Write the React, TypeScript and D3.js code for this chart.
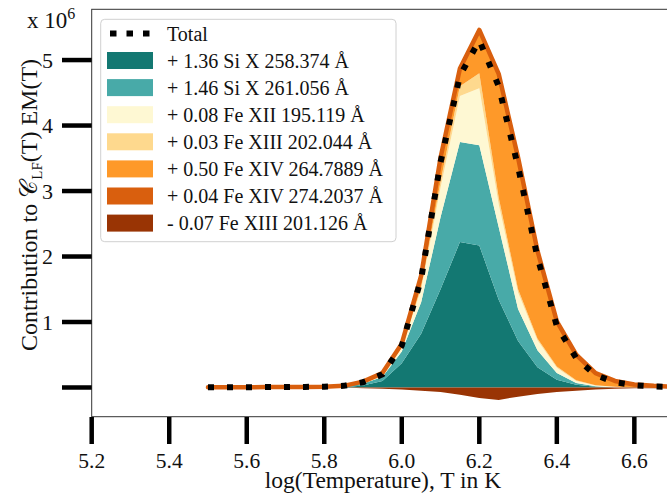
import React from "react";
import * as d3 from "d3";

const logT = [5.5, 5.55, 5.6, 5.65, 5.7, 5.75, 5.8, 5.85, 5.9, 5.95, 6.0, 6.05, 6.1, 6.15, 6.2, 6.25, 6.3, 6.35, 6.4, 6.45, 6.5, 6.55, 6.6, 6.65, 6.7];

// values in units of 1e6
const siX258 = [0, 0, 0, 0, 0, 0, 0, 0.005, 0.03, 0.10, 0.37, 0.82, 1.50, 2.22, 2.17, 1.34, 0.71, 0.31, 0.12, 0.04, 0.01, 0, 0, 0, 0];
const siX261 = [0, 0, 0, 0, 0, 0, 0, 0.005, 0.03, 0.06, 0.18, 0.48, 1.10, 1.53, 1.53, 1.11, 0.49, 0.26, 0.10, 0.03, 0.01, 0, 0, 0, 0];
const feXII195 = [0, 0, 0, 0, 0, 0, 0, 0.003, 0.01, 0.02, 0.05, 0.20, 0.45, 0.70, 0.87, 0.35, 0.25, 0.15, 0.08, 0.03, 0.01, 0.01, 0, 0, 0];
const feXIII202 = [0, 0, 0, 0, 0, 0, 0, 0.001, 0.002, 0.005, 0.01, 0.04, 0.10, 0.15, 0.23, 0.10, 0.05, 0.03, 0.02, 0.01, 0.005, 0.002, 0, 0, 0];
const feXIV264 = [0.002, 0.002, 0.003, 0.003, 0.004, 0.005, 0.008, 0.006, 0.008, 0.015, 0.03, 0.11, 0.30, 0.21, 0.60, 1.83, 1.95, 1.28, 0.64, 0.35, 0.165, 0.073, 0.035, 0.015, 0.006];
const feXIV274 = [0.002, 0.002, 0.002, 0.003, 0.003, 0.004, 0.005, 0.005, 0.01, 0.02, 0.03, 0.06, 0.06, 0.06, 0.06, 0.06, 0.06, 0.06, 0.05, 0.04, 0.02, 0.015, 0.01, 0.01, 0.007];
const feXIII201 = [0, 0, 0, 0, 0, 0, 0, 0, -0.01, -0.02, -0.03, -0.05, -0.07, -0.11, -0.16, -0.19, -0.14, -0.10, -0.07, -0.05, -0.03, -0.02, -0.01, -0.01, -0.005];

const seriesLabels = [
  "+ 1.36 Si X 258.374 Å",
  "+ 1.46 Si X 261.056 Å",
  "+ 0.08 Fe XII 195.119 Å",
  "+ 0.03 Fe XIII 202.044 Å",
  "+ 0.50 Fe XIV 264.7889 Å",
  "+ 0.04 Fe XIV 274.2037 Å",
  "- 0.07 Fe XIII 201.126 Å",
];
const seriesColors = ["#137872", "#48aaa8", "#fef8d3", "#fed98e", "#fe9929", "#d95f0e", "#993404"];

const xTicks = [5.2, 5.4, 5.6, 5.8, 6.0, 6.2, 6.4, 6.6];
const yTicks = [0, 1, 2, 3, 4, 5];

const W = 667;
const H = 493;
const FONT = "'Liberation Serif', 'Times New Roman', serif";

export default function App() {
  const x = d3.scaleLinear().domain([5.2, 6.7]).range([91.7, 673.1]);
  const y = d3.scaleLinear().domain([-0.446, 5.775]).range([416.7, 9.3]);

  const positive = [siX258, siX261, feXII195, feXIII202, feXIV264, feXIV274];
  const keys = positive.map((_, i) => "s" + i);
  const rows = logT.map((t, j) => {
    const r: any = { t };
    positive.forEach((arr, i) => (r["s" + i] = arr[j]));
    return r;
  });
  const stacked = d3.stack().keys(keys)(rows);
  const area = d3
    .area<any>()
    .x((d: any) => x(d.data.t))
    .y0((d: any) => y(d[0]))
    .y1((d: any) => y(d[1]));

  const negArea = d3
    .area<number>()
    .x((_, i) => x(logT[i]))
    .y0(() => y(0))
    .y1((d) => y(d));

  const topLine = d3
    .line<any>()
    .x((d: any) => x(d.data.t))
    .y((d: any) => y(d[1]));

  const total = logT.map((_, j) => positive.reduce((s, arr) => s + arr[j], 0) + feXIII201[j]);
  const totalLine = d3
    .line<number>()
    .x((_, i) => x(logT[i]))
    .y((d) => y(d))
    .curve(d3.curveLinear);

  const legendRowY = (i: number) => 60.5 + i * 27.1;

  return (
    <svg width={W} height={H} style={{ position: "absolute", left: 0, top: 0, background: "#fff" }} fontFamily={FONT}>
      <defs>
        <clipPath id="plotclip">
          <rect x={91.7} y={9.3} width={673.1 - 91.7} height={416.7 - 9.3} />
        </clipPath>
      </defs>
      <g clipPath="url(#plotclip)">
        {stacked.map((s, i) => (
          <path key={i} d={area(s as any) || ""} fill={seriesColors[i]} stroke="none" />
        ))}
        <path d={negArea(feXIII201) || ""} fill={seriesColors[6]} />
        <path d={topLine(stacked[5] as any) || ""} fill="none" stroke={seriesColors[5]} strokeWidth={4.5} strokeLinejoin="round" strokeLinecap="round" />
        <path d={totalLine(total) || ""} fill="none" stroke="#000" strokeWidth={6} strokeDasharray="6,13" />
      </g>

      {/* frame */}
      <rect x={91.7} y={9.3} width={673.1 - 91.7} height={416.7 - 9.3} fill="none" stroke="#333" strokeWidth={1} />

      {/* y ticks */}
      {yTicks.map((v) => (
        <g key={v}>
          <line x1={62} x2={91.7} y1={y(v)} y2={y(v)} stroke="#000" strokeWidth={4.5} />
          {v !== 0 && (
            <text x={53} y={y(v) + 7.5} textAnchor="end" fontSize={22} fill="#111">
              {v}
            </text>
          )}
        </g>
      ))}
      <text x={27} y={28} fontSize={23} fill="#111">
        x 10
        <tspan dy={-9} fontSize={16}>6</tspan>
      </text>

      {/* x ticks */}
      {xTicks.map((v) => (
        <g key={v}>
          <line x1={x(v)} x2={x(v)} y1={417} y2={444} stroke="#000" strokeWidth={4.5} />
          <text x={x(v)} y={468} textAnchor="middle" fontSize={21.5} fill="#111">
            {v.toFixed(1)}
          </text>
        </g>
      ))}

      <text x={383} y={488} textAnchor="middle" fontSize={23.5} fill="#111">
        log(Temperature), T in K
      </text>

      <text transform="translate(37,205) rotate(-90)" textAnchor="middle" fontSize={24} fill="#111">
        Contribution to 𝒞
        <tspan fontSize={15} dy={5}>LF</tspan>
        <tspan dy={-5}>(T) EM(T)</tspan>
      </text>

      {/* legend */}
      <rect x={100.7} y={19.3} width={295.3} height={222.4} rx={4} ry={4} fill="#fff" fillOpacity={0.85} stroke="#d0d0d0" strokeWidth={1} />
      <line x1={110} x2={152} y1={33.5} y2={33.5} stroke="#000" strokeWidth={6} strokeDasharray="6.5,10" />
      <text x={167} y={40.5} fontSize={20} fill="#111">Total</text>
      {seriesLabels.map((lab, i) => (
        <g key={i}>
          <rect x={107} y={legendRowY(i) - 8.5} width={46} height={17} fill={seriesColors[i]} />
          <text x={167} y={legendRowY(i) + 7} fontSize={20} fill="#111">
            {lab}
          </text>
        </g>
      ))}
    </svg>
  );
}
